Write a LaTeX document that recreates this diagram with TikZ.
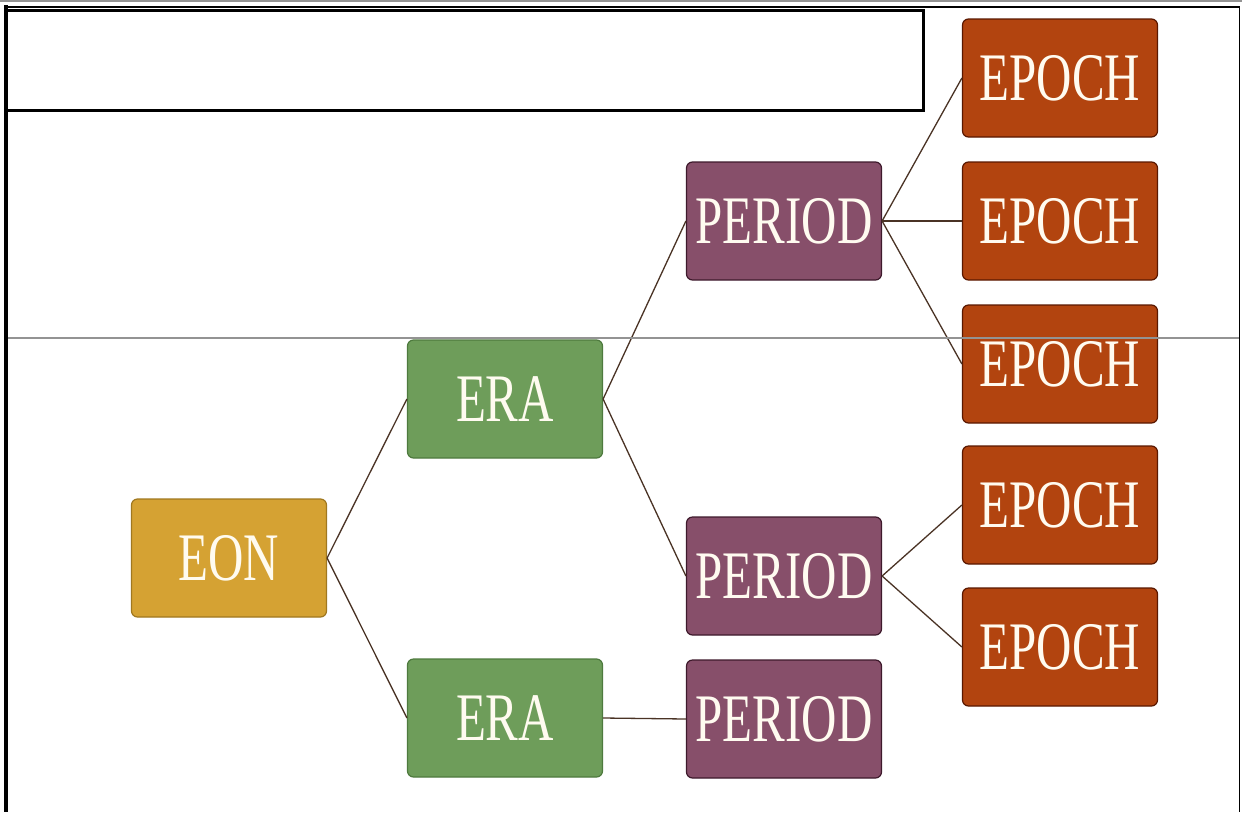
\documentclass[tikz,border=0pt]{standalone}
\usepackage{fontspec}
\setmainfont{Liberation Serif}
\newfontfamily\boxfont[FakeStretch=0.72]{Liberation Serif}
\definecolor{eonfill}{HTML}{D5A233}
\definecolor{eonline}{HTML}{A07820}
\definecolor{erafill}{HTML}{6E9D5A}
\definecolor{eraline}{HTML}{4E7A3E}
\definecolor{perfill}{HTML}{874F6A}
\definecolor{perline}{HTML}{3E1A2C}
\definecolor{epofill}{HTML}{B2440F}
\definecolor{epoline}{HTML}{5A1800}
\definecolor{txtcol}{HTML}{FFFBF0}
\definecolor{linkcol}{HTML}{4A3325}
\begin{document}
\begin{tikzpicture}[x=1pt,y=-1pt,
  box/.style={rectangle, rounded corners=6pt, minimum width=195pt, minimum height=118pt,
    inner sep=0pt, line width=1.2pt, text=txtcol,
    font=\boxfont\fontsize{68}{68}\selectfont},
  eonbox/.style={box, fill=eonfill, draw=eonline},
  erabox/.style={box, fill=erafill, draw=eraline},
  perbox/.style={box, fill=perfill, draw=perline},
  epobox/.style={box, fill=epofill, draw=epoline},
  link/.style={draw=linkcol, line width=1.3pt},
  frame/.style={draw=black},
  guide/.style={draw=gray!85, line width=1.5pt}]
\useasboundingbox (0,0) rectangle (1242,812);
\fill[white] (0,0) rectangle (1242,812);

% nodes
\node[eonbox] (eon) at (229,558) {EON};
\node[erabox] (era1) at (505,399) {ERA};
\node[erabox] (era2) at (505,718) {ERA};
\node[perbox] (per1) at (784,221) {PERIOD};
\node[perbox] (per2) at (784,576) {PERIOD};
\node[perbox] (per3) at (784,719) {PERIOD};
\node[epobox] (epo1) at (1060,78) {EPOCH};
\node[epobox] (epo2) at (1060,221) {EPOCH};
\node[epobox] (epo3) at (1060,364) {EPOCH};
\node[epobox] (epo4) at (1060,505) {EPOCH};
\node[epobox] (epo5) at (1060,647) {EPOCH};

% connectors
\draw[link] (eon.east) -- (era1.west);
\draw[link] (eon.east) -- (era2.west);
\draw[link] (era1.east) -- (per1.west);
\draw[link] (era1.east) -- (per2.west);
\draw[link] (era2.east) -- (per3.west);
\draw[link] (per1.east) -- (epo1.west);
\draw[link] (per1.east) -- (epo2.west);
\draw[link] (per1.east) -- (epo3.west);
\draw[link] (per2.east) -- (epo4.west);
\draw[link] (per2.east) -- (epo5.west);

% frame and overlay lines
\draw[guide] (0,1) -- (1242,1);
\draw[frame, line width=2pt] (5,6.5) -- (1240,6.5);
\draw[frame, line width=4pt] (6,5) -- (6,812);
\draw[frame, line width=1.2pt] (1239.5,6) -- (1239.5,812);
\draw[frame, line width=3pt] (6,10.5) rectangle (923.5,110);
\draw[guide] (8,338) -- (1239,338);
\end{tikzpicture}
\end{document}
